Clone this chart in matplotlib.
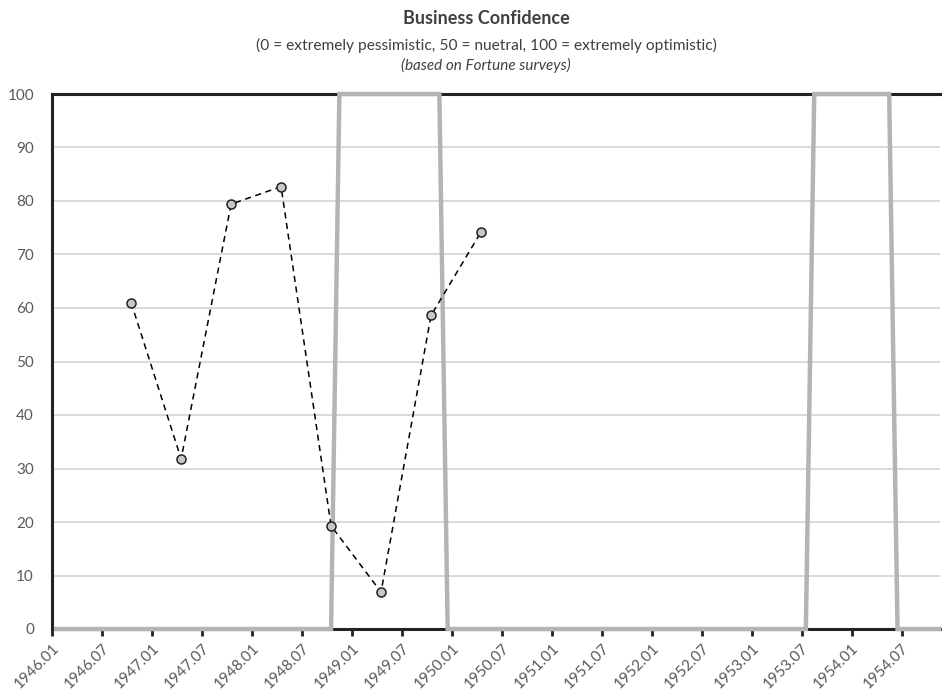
import matplotlib
matplotlib.use("Agg")
import matplotlib.pyplot as plt

# ---- data ----
months = [
    "1946.01","1946.02","1946.03","1946.04","1946.05","1946.06","1946.07","1946.08","1946.09","1946.10","1946.11","1946.12",
    "1947.01","1947.02","1947.03","1947.04","1947.05","1947.06","1947.07","1947.08","1947.09","1947.10","1947.11","1947.12",
    "1948.01","1948.02","1948.03","1948.04","1948.05","1948.06","1948.07","1948.08","1948.09","1948.10","1948.11","1948.12",
    "1949.01","1949.02","1949.03","1949.04","1949.05","1949.06","1949.07","1949.08","1949.09","1949.10","1949.11","1949.12",
    "1950.01","1950.02","1950.03","1950.04","1950.05","1950.06","1950.07","1950.08","1950.09","1950.10","1950.11","1950.12",
    "1951.01","1951.02","1951.03","1951.04","1951.05","1951.06","1951.07","1951.08","1951.09","1951.10","1951.11","1951.12",
    "1952.01","1952.02","1952.03","1952.04","1952.05","1952.06","1952.07","1952.08","1952.09","1952.10","1952.11","1952.12",
    "1953.01","1953.02","1953.03","1953.04","1953.05","1953.06","1953.07","1953.08","1953.09","1953.10","1953.11","1953.12",
    "1954.01","1954.02","1954.03","1954.04","1954.05","1954.06","1954.07","1954.08","1954.09","1954.10","1954.11",
]

recession = [
    0, 0, 0, 0, 0, 0, 0, 0, 0, 0, 0, 0,
    0, 0, 0, 0, 0, 0, 0, 0, 0, 0, 0, 0,
    0, 0, 0, 0, 0, 0, 0, 0, 0, 0, 100, 100,
    100, 100, 100, 100, 100, 100, 100, 100, 100, 100, 100, 0,
    0, 0, 0, 0, 0, 0, 0, 0, 0, 0, 0, 0,
    0, 0, 0, 0, 0, 0, 0, 0, 0, 0, 0, 0,
    0, 0, 0, 0, 0, 0, 0, 0, 0, 0, 0, 0,
    0, 0, 0, 0, 0, 0, 0, 100, 100, 100, 100, 100,
    100, 100, 100, 100, 100, 0, 0, 0, 0, 0, 0,
]

survey_dates = ["1946.10", "1947.04", "1947.10", "1948.04", "1948.10", "1949.04", "1949.10", "1950.04"]
survey_values = [61.0, 31.8, 79.4, 82.7, 19.3, 6.9, 58.6, 74.2]

tick_labels = ["1946.01","1946.07","1947.01","1947.07","1948.01","1948.07","1949.01","1949.07",
               "1950.01","1950.07","1951.01","1951.07","1952.01","1952.07","1953.01","1953.07",
               "1954.01","1954.07"]

title = "Business Confidence"
subtitle = "(0 = extremely pessimistic, 50 = nuetral, 100 = extremely optimistic)"
subtitle2 = "(based on Fortune surveys)"

# ---- plot ----
plt.rcParams['font.family'] = ['Lato', 'DejaVu Sans']
W, H = 942, 691
fig = plt.figure(figsize=(W / 100, H / 100), dpi=100)
ax = fig.add_axes([52 / W, 1 - 629 / H, 888 / W, 535 / H])

xr = [i + 0.5 for i in range(len(months))]
ax.plot(xr, recession, color="#b3b3b8", lw=3.2, zorder=5, clip_on=False,
        solid_joinstyle="miter")

xs = [months.index(d) + 0.5 for d in survey_dates]
ax.plot(xs, survey_values, color="black", lw=1.1, ls=(0, (4, 3)), zorder=6,
        marker="o", markersize=6.5, markerfacecolor="#c8c8c8",
        markeredgecolor="#222222", markeredgewidth=1.1)

ax.set_xlim(0, 106.6)
ax.set_ylim(0, 100)
ax.set_yticks(range(0, 101, 10))
ax.grid(axis="y", color="#d9d9d9", lw=1.4, zorder=0)
ax.set_axisbelow(True)

tick_pos = [months.index(t) for t in tick_labels]
ax.set_xticks(tick_pos)
ax.set_xticklabels(tick_labels, rotation=45, ha="right", rotation_mode="anchor",
                   fontsize=11, color="#595959")
ax.tick_params(axis="x", direction="out", length=5, width=2, color="#222222", pad=4)
ax.tick_params(axis="y", length=0, pad=13, labelsize=11, labelcolor="#595959")

for s in ["left", "bottom", "top"]:
    ax.spines[s].set_color("#222222")
    ax.spines[s].set_linewidth(2.2)
ax.spines["right"].set_visible(False)

fig.text(486 / W, 1 - 19 / H, title, ha="center", va="center", fontsize=13,
         fontweight="bold", color="#404040")
fig.text(486 / W, 1 - 45 / H, subtitle, ha="center", va="center", fontsize=11.2,
         color="#404040")
fig.text(486 / W, 1 - 65 / H, subtitle2, ha="center", va="center", fontsize=11,
         style="italic", color="#404040")

fig.savefig("out.png", dpi=100)
